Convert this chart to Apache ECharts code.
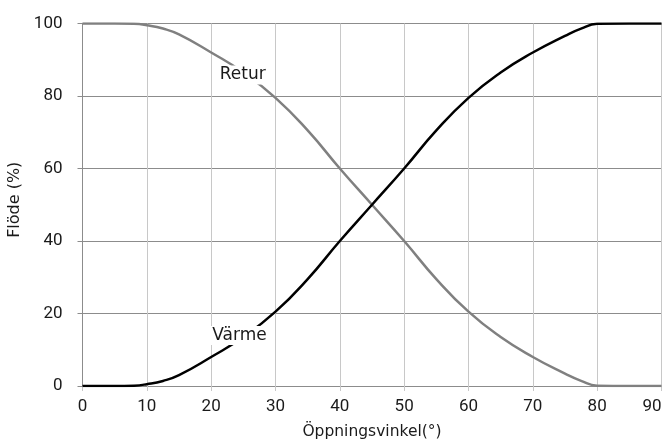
<!DOCTYPE html>
<html><head><meta charset="utf-8">
<script src="https://cdn.jsdelivr.net/npm/echarts@6/dist/echarts.min.js"></script>
<style>html,body{margin:0;padding:0;background:#fff}#c{width:662px;height:441px}</style>
</head><body><div id="c"></div>
<script>
var angles = [0, 5, 8, 10, 12.5, 15, 20, 25, 30, 35, 40, 45, 50, 55, 60, 65, 70, 75, 77.5, 80, 85, 90];
var varme  = [0, 0, 0.1, 0.5, 1.4, 3, 8, 13.5, 20.5, 29.5, 40, 50, 60, 70.5, 79.5, 86.5, 92, 96.6, 98.6, 99.9, 100, 100];
var retur  = [100, 100, 99.9, 99.5, 98.6, 97, 92, 86.5, 79.5, 70.5, 60, 50, 40, 29.5, 20.5, 13.5, 8, 3.4, 1.4, 0.1, 0, 0];
var xTicks = [0, 10, 20, 30, 40, 50, 60, 70, 80, 90];
var yTicks = [0, 20, 40, 60, 80, 100];
var seriesNames = ['Retur', 'Värme'];
var labelPos = { 'Retur': [24.9, 85.8], 'Värme': [24.4, 13.9] };

var FONT = 'Roboto, "Liberation Sans", sans-serif';
var FONT2 = '"DejaVu Sans", sans-serif';
function pairs(ys) { return angles.map(function (a, i) { return [a, ys[i]]; }); }
function mk(name) {
  return {
    symbol: 'rect', symbolSize: 1, silent: true, animation: false,
    itemStyle: { color: 'rgba(0,0,0,0)' },
    data: [{ coord: labelPos[name], value: name }],
    label: { show: true, position: 'inside', formatter: name, color: '#1a1a1a',
      fontFamily: FONT2, fontSize: 17, backgroundColor: '#fff', padding: [1, 3] }
  };
}
var chart = echarts.init(document.getElementById('c'), null, { renderer: 'canvas' });
chart.setOption({
  animation: false,
  backgroundColor: '#fff',
  grid: { left: 82.5, right: 0.5, top: 23.5, bottom: 55, containLabel: false, outerBoundsMode: 'none' },
  xAxis: {
    type: 'value', min: 0, max: 90, interval: 10,
    name: 'Öppningsvinkel(°)', nameLocation: 'middle', nameGap: 38,
    nameTextStyle: { fontFamily: FONT2, fontSize: 15.5, color: '#1a1a1a' },
    axisLine: { show: true, lineStyle: { color: '#8c8c8c', width: 1 } },
    axisTick: { show: true, length: 5, lineStyle: { color: '#c8c8c8' } },
    axisLabel: { fontFamily: FONT, fontSize: 17, color: '#1a1a1a', margin: 12, hideOverlap: false,
      alignMaxLabel: 'right',
      formatter: function (v) { return xTicks.indexOf(v) >= 0 ? String(v) : ''; } },
    splitLine: { show: true, lineStyle: { color: '#c8c8c8', width: 1 } }
  },
  yAxis: {
    type: 'value', min: 0, max: 100, interval: 20,
    name: 'Flöde (%)', nameLocation: 'middle', nameGap: 55, nameRotate: 90,
    nameTextStyle: { fontFamily: FONT2, fontSize: 16, color: '#1a1a1a', padding: [0, 0, 0, 10] },
    axisLine: { show: true, lineStyle: { color: '#8c8c8c', width: 1 } },
    axisTick: { show: true, length: 5, lineStyle: { color: '#8c8c8c' } },
    axisLabel: { fontFamily: FONT, fontSize: 17, color: '#1a1a1a', margin: 20,
      formatter: function (v) { return yTicks.indexOf(v) >= 0 ? String(v) : ''; } },
    splitLine: { show: true, lineStyle: { color: '#8c8c8c', width: 1 } }
  },
  series: [
    { name: seriesNames[0], type: 'line', data: pairs(retur), smooth: 0.5,
      symbol: 'none', lineStyle: { color: '#808080', width: 2.5 }, markPoint: mk('Retur'), z: 3 },
    { name: seriesNames[1], type: 'line', data: pairs(varme), smooth: 0.5,
      symbol: 'none', lineStyle: { color: '#000', width: 2.5 }, markPoint: mk('Värme'), z: 4 }
  ]
});
</script></body></html>
